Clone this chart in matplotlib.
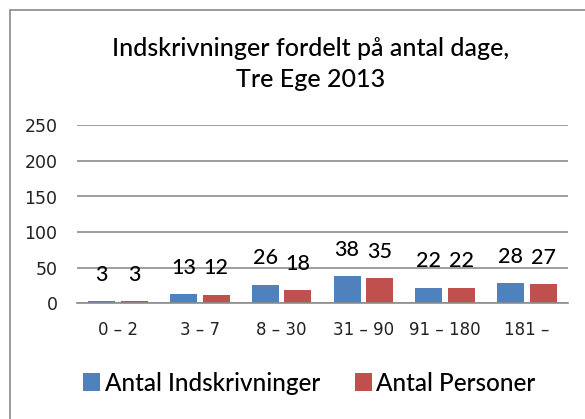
import matplotlib.pyplot as plt
import matplotlib.patches as mpatches
import numpy as np

categories = ["0 – 2", "3 – 7", "8 – 30", "31 – 90", "91 – 180", "181 –"]
indskrivninger = [3, 13, 26, 38, 22, 28]
personer = [3, 12, 18, 35, 22, 27]
y_ticks = [0, 50, 100, 150, 200, 250]
title_lines = ["Indskrivninger fordelt på antal dage,", "Tre Ege 2013"]

blue = "#4F81BD"
red = "#C0504D"
grid_col = "#8c8c8c"

fig = plt.figure(figsize=(5.85, 4.19), dpi=100)
fig.patch.set_facecolor("white")

# chart border (right and bottom edges are cut off in the reference)
border = mpatches.Rectangle((10 / 585, -0.05), 1.2, 1 - 10 / 419 + 0.05,
                            transform=fig.transFigure, fill=False,
                            edgecolor="#8a8a8a", linewidth=1.2)
fig.patches.append(border)

ax = fig.add_axes([77 / 585, 1 - 303.3 / 419, 491 / 585, (303.3 - 125.3) / 419])
x = np.arange(len(categories))
w = 0.33
b1 = ax.bar(x - 0.2, indskrivninger, w, color=blue, label="Antal Indskrivninger", zorder=3)
b2 = ax.bar(x + 0.2, personer, w, color=red, label="Antal Personer", zorder=3)

for i in range(len(categories)):
    ax.text(x[i] - 0.2, indskrivninger[i] + 37, str(indskrivninger[i]), ha="center", va="center",
            fontsize=15.5, family="Lato", weight=500, color="black", zorder=4)
    ax.text(x[i] + 0.2, personer[i] + 37, str(personer[i]), ha="center", va="center",
            fontsize=15.5, family="Lato", weight=500, color="black", zorder=4)

ax.set_xlim(-0.5, 5.5)
ax.set_ylim(0, 250)
ax.set_yticks(y_ticks)
ax.set_yticklabels([str(t) for t in y_ticks], fontsize=12.5, color="#222222")
ax.set_xticks(x)
ax.set_xticklabels(categories, fontsize=12, color="#222222")
ax.tick_params(axis="y", length=0, pad=14)
ax.tick_params(axis="x", length=0, pad=13)
ax.yaxis.grid(True, color=grid_col, linewidth=1.2, zorder=1)
for s in ["top", "right", "left"]:
    ax.spines[s].set_visible(False)
ax.spines["bottom"].set_color(grid_col)
ax.spines["bottom"].set_linewidth(1.2)
ax.spines["bottom"].set_zorder(5)

fig.text(311 / 585, 1 - 48.5 / 419, title_lines[0], ha="center", va="center",
         fontsize=18, family="Lato", weight=500)
fig.text(311 / 585, 1 - 79.5 / 419, title_lines[1], ha="center", va="center",
         fontsize=18, family="Lato", weight=500)

fig.legend(handles=[b1, b2], loc="center", bbox_to_anchor=(309.5 / 585, 1 - 383 / 419),
           ncol=2, frameon=False, prop={"family": "Lato", "size": 17.5, "weight": 500},
           handlelength=0.7, handleheight=0.7, handletextpad=0.2, columnspacing=1.4)

fig.savefig("out.png", dpi=100)
